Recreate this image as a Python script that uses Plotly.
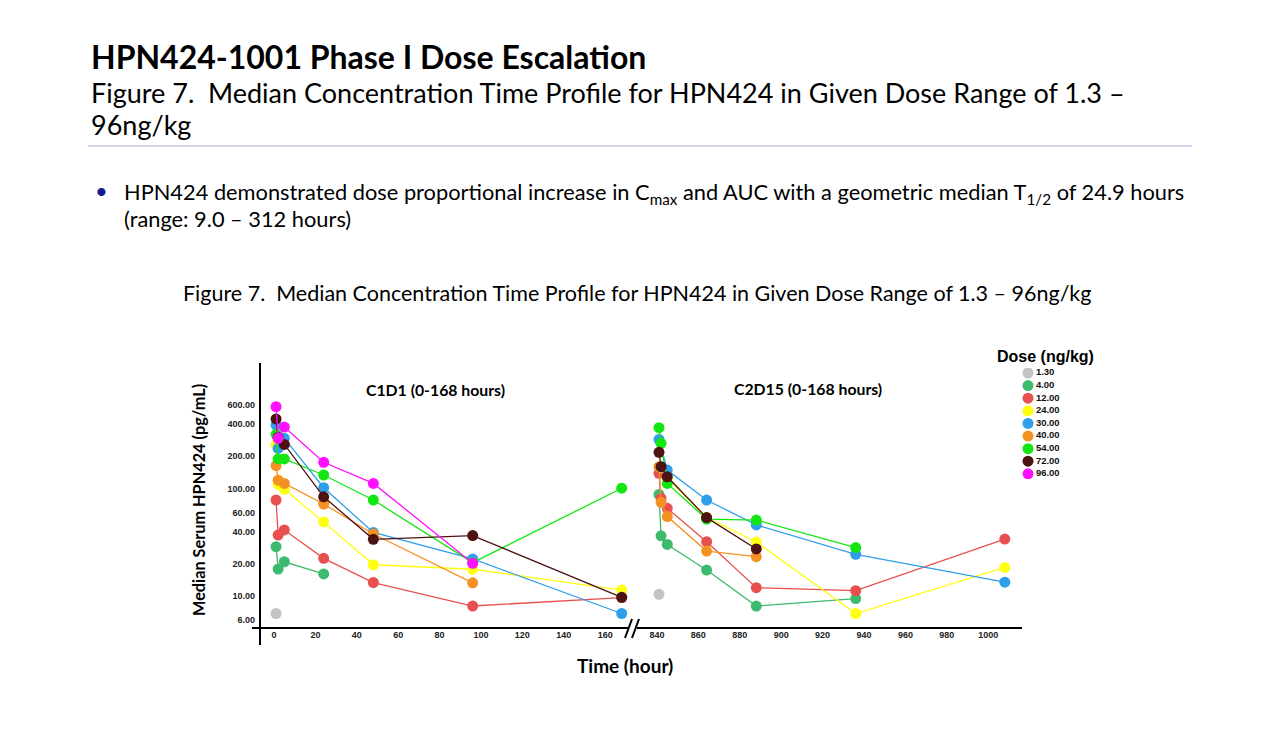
import plotly.graph_objects as go

# ---------------- data ----------------
doses = ["1.30", "4.00", "12.00", "24.00", "30.00", "40.00", "54.00", "72.00", "96.00"]
colors = ["#c3c3c3", "#3dba6e", "#e8504f", "#ffff10", "#2e9fe8", "#f39222", "#14e614", "#4d1212", "#ff10ff"]

t_c1d1 = [1, 2, 5, 24, 48, 96, 168]
t_c2d15 = [841, 842, 845, 864, 888, 936, 1008]

c1d1 = {
    "1.30":  [6.9, None, None, None, None, None, None],
    "4.00":  [28.9, 17.9, 20.9, 16.1, None, None, None],
    "12.00": [78.4, 37.0, 41.3, 22.5, 13.4, 8.1, 9.7],
    "24.00": [255, 110, 98.6, 49.0, 19.6, 17.8, 11.4],
    "30.00": [391, 237, 294, 102, 39.2, 22.2, 6.9],
    "40.00": [164, 120, 112, 72.0, 37.9, 13.3, None],
    "54.00": [320, 189, 189, 134, 78.4, 20.5, 101],
    "72.00": [445, 300, 258, 84.0, 33.8, 36.6, 9.75],
    "96.00": [579, 294, 374, 176, 112, 20.2, None],
}
c2d15 = {
    "1.30":  [10.4, None, None, None, None, None, None],
    "4.00":  [88.5, 36.4, 30.3, 17.5, 8.1, 9.5, None],
    "12.00": [139, 81.0, 65.6, 32.1, 12.0, 11.25, 34.0],
    "24.00": [None, 158, 125, 54.0, 31.9, 6.9, 18.5],
    "30.00": [287, None, 149, 78.4, 46.0, 24.5, 13.5],
    "40.00": [160, 74.7, 55.0, 26.3, 23.3, None, None],
    "54.00": [369, 264, 112, 52.0, 51.0, 28.3, None],
    "72.00": [218, 160, 129, 53.8, 27.5, None, None],
    "96.00": [None, None, None, None, None, None, None],
}

y_ticks = [6, 10, 20, 40, 60, 100, 200, 400, 600]
x1_ticks = [0, 20, 40, 60, 80, 100, 120, 140, 160]
x2_ticks = [840, 860, 880, 900, 920, 940, 960, 980, 1000]

# page body has an 8px margin: size the figure so the page is 1280x747
OFF = 8
W, H = 1280 - 2 * OFF, 747 - 2 * OFF
def px(x): return (x - OFF) / W
def py(y): return 1 - (y - OFF) / H

CAL = "Lato"
ARI = "Liberation Sans"

fig = go.Figure()

def pair(t, v):
    xs, ys = [], []
    for a, b in zip(t, v):
        if b is not None:
            xs.append(a); ys.append(b)
    return xs, ys

for d, c in zip(doses, colors):
    for t, src, xa, ya in [(t_c1d1, c1d1, "x", "y"), (t_c2d15, c2d15, "x2", "y2")]:
        xs, ys = pair(t, src[d])
        if not xs:
            continue
        fig.add_trace(go.Scatter(
            x=xs, y=ys, xaxis=xa, yaxis=ya, mode="lines+markers",
            line=dict(color=c, width=1.3),
            marker=dict(color=c, size=11, line=dict(width=0)),
            showlegend=False, hoverinfo="x+y", name=d))

# legend drawn as a scatter on its own axes
fig.add_trace(go.Scatter(
    x=[0] * len(doses), y=list(range(len(doses))), xaxis="x3", yaxis="y3",
    mode="markers+text", text=["<b>%s</b>" % d for d in doses],
    textposition="middle right", textfont=dict(family=ARI, size=9.5, color="#111"),
    marker=dict(color=colors, size=11, line=dict(width=0)),
    showlegend=False, hoverinfo="skip"))

tickfont = dict(family=ARI, size=9, color="#222")
ylog_lo, ylog_hi = 0.704, 3.169

fig.update_layout(
    width=W, height=H, margin=dict(l=0, r=0, t=0, b=0),
    paper_bgcolor="white", plot_bgcolor="white", showlegend=False,
    xaxis=dict(domain=[px(260), px(630)], range=[-6.76, 172], anchor="y",
               showgrid=False, zeroline=False, showline=False, ticks="",
               tickvals=x1_ticks, ticktext=["<b>%d</b>" % v for v in x1_ticks],
               tickfont=tickfont),
    xaxis2=dict(domain=[px(636), px(1022)], range=[829.9, 1016.3], anchor="y2",
                showgrid=False, zeroline=False, showline=False, ticks="",
                tickvals=x2_ticks, ticktext=["<b>%d</b>" % v for v in x2_ticks],
                tickfont=tickfont),
    yaxis=dict(domain=[py(628), py(363)], type="log", range=[ylog_lo, ylog_hi], anchor="x",
               showgrid=False, zeroline=False, showline=False, ticks="",
               tickvals=y_ticks, ticktext=["<b>%.2f</b>" % v for v in y_ticks],
               tickfont=tickfont, ticklabelstandoff=4),
    yaxis2=dict(domain=[py(628), py(363)], type="log", range=[ylog_lo, ylog_hi], anchor="x2",
                showgrid=False, zeroline=False, showline=False, showticklabels=False, ticks=""),
    xaxis3=dict(domain=[px(1020), px(1100)], range=[-8, 72], anchor="y3", visible=False),
    yaxis3=dict(domain=[py(479), py(368)], range=[8.41, -0.397], anchor="x3", visible=False),
)

# axis lines and break marks
line_k = dict(color="black", width=2)
fig.add_shape(type="line", xref="paper", yref="paper", x0=px(260), x1=px(260), y0=py(363), y1=py(645), line=line_k)
fig.add_shape(type="line", xref="paper", yref="paper", x0=px(252), x1=px(628), y0=py(628), y1=py(628), line=line_k)
fig.add_shape(type="line", xref="paper", yref="paper", x0=px(637), x1=px(1022), y0=py(628), y1=py(628), line=line_k)
fig.add_shape(type="line", xref="paper", yref="paper", x0=px(625), x1=px(632), y0=py(638), y1=py(619), line=line_k)
fig.add_shape(type="line", xref="paper", yref="paper", x0=px(632), x1=px(639), y0=py(638), y1=py(619), line=line_k)
# header rule
fig.add_shape(type="line", xref="paper", yref="paper", x0=px(88), x1=px(1192), y0=py(146), y1=py(146),
              line=dict(color="#a9a9d6", width=1))

def ann(x, y, text, size, family=CAL, color="black", xanchor="left", yanchor="middle", angle=0):
    fig.add_annotation(x=px(x), y=py(y), xref="paper", yref="paper", text=text, showarrow=False,
                       xanchor=xanchor, yanchor=yanchor, textangle=angle,
                       font=dict(family=family, size=size, color=color), align="left")

ann(89, 56, "<b>HPN424-1001 Phase I Dose Escalation</b>", 32)
ann(89, 93, "Figure 7.  Median Concentration Time Profile for HPN424 in Given Dose Range of 1.3 \u2013", 27)
ann(89, 125, "96ng/kg", 27)
ann(93, 190, "\u2022", 22, color="#1a1a8c")
ann(122, 193, "HPN424 demonstrated dose proportional increase in C<sub>max</sub> and AUC with a geometric median T<sub>1/2</sub> of 24.9 hours", 21.8)
ann(122, 218, "(range: 9.0 \u2013 312 hours)", 21.8)
ann(637, 293, "Figure 7.  Median Concentration Time Profile for HPN424 in Given Dose Range of 1.3 \u2013 96ng/kg", 21.5, xanchor="center")

ann(435, 389, "<b>C1D1 (0-168 hours)</b>", 15.8, xanchor="center")
ann(808, 388, "<b>C2D15 (0-168 hours)</b>", 15.8, xanchor="center")
ann(625, 665, "<b>Time (hour)</b>", 19, xanchor="center")
ann(198, 500, "<b>Median Serum HPN424 (pg/mL)</b>", 16.3, xanchor="center", angle=-90)
ann(1045, 356, "<b>Dose (ng/kg)</b>", 16, family=ARI, xanchor="center")

fig.write_html("out.html")
